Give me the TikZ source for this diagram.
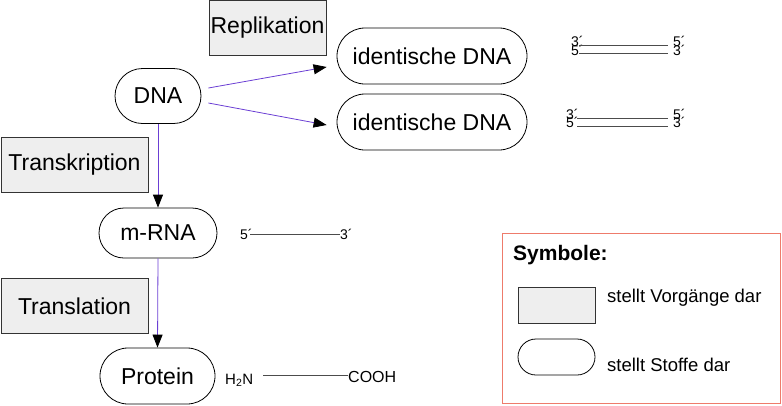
\documentclass[tikz,border=0pt]{standalone}
\usepackage{fontspec}
\setmainfont{Liberation Sans}
\usetikzlibrary{arrows.meta,shapes.misc}

\definecolor{vorgangfill}{HTML}{EEEEEE}
\definecolor{pfeil}{HTML}{6B3FD4}
\definecolor{rahmen}{HTML}{EE7B6B}

\begin{document}
\begin{tikzpicture}[x=1pt,y=-1pt,
    vorgang/.style={draw=black!80, fill=vorgangfill, line width=0.8pt, inner sep=0pt, font=\fontsize{23}{27}\selectfont},
    stoff/.style={rounded rectangle, draw=black, line width=0.8pt, inner sep=0pt, font=\fontsize{23}{27}\selectfont},
    pfeilstil/.style={draw=pfeil, line width=0.8pt, -{Triangle[color=black, length=13pt, width=10pt]}},
    strang/.style={draw=black!70, line width=0.7pt},
    ende/.style={anchor=base west, inner sep=0pt, font=\fontsize{14}{16}\selectfont},
    legtext/.style={anchor=west, inner sep=0pt, font=\fontsize{18.5}{22}\selectfont}]
    \useasboundingbox (0,0) rectangle (782,405);

    % Vorgaenge
    \node[vorgang, minimum width=117, minimum height=55] (replikation) at (267.5,27.5) {Replikation};
    \node[vorgang, minimum width=147, minimum height=55] (transkription) at (74.5,165) {Transkription};
    \node[vorgang, minimum width=147, minimum height=55] (translation) at (74.5,306) {Translation};

    % Stoffe
    \node[stoff, minimum width=86, minimum height=55] (dna) at (158,96) {DNA};
    \node[stoff, minimum width=190, minimum height=56] (idnaA) at (432,56) {identische DNA};
    \node[stoff, minimum width=190, minimum height=56] (idnaB) at (432,122) {identische DNA};
    \node[stoff, minimum width=118, minimum height=50] (mrna) at (158,233) {m-RNA};
    \node[stoff, minimum width=115, minimum height=56] (protein) at (157.5,376) {Protein};

    % Pfeile
    \draw[pfeilstil] ([shift={(7,-8)}]dna.east) -- ([shift={(-10,11)}]idnaA.west);
    \draw[pfeilstil] ([shift={(7,7)}]dna.east) -- ([shift={(-10,3)}]idnaB.west);
    \draw[pfeilstil] (dna.south) -- (mrna.north);
    \draw[pfeilstil] (mrna.south) -- (protein.north);

    % Doppelstraenge
    \node[ende] (a3) at (571,46.5) {3´};
    \node[ende] (a5) at (571,55) {5´};
    \node[ende] (b5) at (673,46.5) {5´};
    \node[ende] (b3) at (673,55) {3´};
    \draw[strang] (579,45) -- (668,45);
    \draw[strang] (579,53) -- (668,53);

    \node[ende] (c3) at (566,119) {3´};
    \node[ende] (c5) at (566,127.5) {5´};
    \node[ende] (d5) at (673,119) {5´};
    \node[ende] (d3) at (673,127.5) {3´};
    \draw[strang] (577,118) -- (668,118);
    \draw[strang] (577,126) -- (668,126);

    % Einzelstrang
    \node[ende] (e5) at (240,239) {5´};
    \node[ende] (e3) at (340,239) {3´};
    \draw[strang] (250,234.5) -- (340,234.5);

    % Peptid
    \node[ende, font=\fontsize{15}{17}\selectfont] (nterm) at (225,384) {H\textsubscript{2}N};
    \node[ende, font=\fontsize{16}{18}\selectfont] (cterm) at (348,382) {COOH};
    \draw[strang] (263,375) -- (348,375);

    % Legende
    \node[draw=rahmen, line width=0.8pt, minimum width=278, minimum height=170, inner sep=0pt] (legende) at (641,318) {};
    \node[anchor=base west, inner sep=0pt, font=\bfseries\fontsize{21}{25}\selectfont] (symbole) at (513,260) {Symbole:};
    \node[vorgang, minimum width=77, minimum height=36] (symvorgang) at (556.5,305) {};
    \node[stoff, minimum width=77, minimum height=36] (symstoff) at (556.5,357) {};
    \node[legtext] (txtvorgang) at (607,298) {stellt Vorgänge dar};
    \node[legtext] (txtstoff) at (607,365) {stellt Stoffe dar};
\end{tikzpicture}
\end{document}
